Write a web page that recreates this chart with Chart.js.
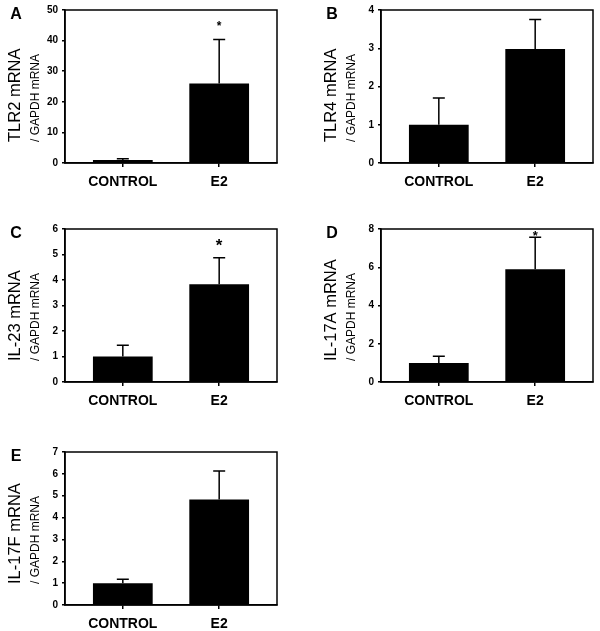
<!DOCTYPE html>
<html>
<head>
<meta charset="utf-8">
<script src="https://cdn.jsdelivr.net/npm/chart.js@4.4.1/dist/chart.umd.min.js"></script>
<style>
  html, body { margin: 0; padding: 0; background: #fff; overflow: hidden; }
  #wrap { position: relative; width: 600px; height: 631px; overflow: hidden; }
  .panel { position: absolute; width: 300px; height: 200px; }
</style>
</head>
<body>
<div id="wrap"></div>
<script>
// data
const categories = ['CONTROL', 'E2'];
const panelLetters = ['A', 'B', 'C', 'D', 'E'];
const yTitles = ['TLR2 mRNA', 'TLR4 mRNA', 'IL-23 mRNA', 'IL-17A mRNA', 'IL-17F mRNA'];
const ySubtitle = '/ GAPDH mRNA';
const yMaxima = [50, 4, 6, 8, 7];
const yStepSizes = [10, 1, 1, 2, 1];
const meanValues = [[1, 26.0], [1, 2.98], [1, 3.83], [1, 5.9], [1, 4.83]];
const errorValues = [[0.4, 14.4], [0.7, 0.77], [0.44, 1.04], [0.35, 1.67], [0.18, 1.3]];
const starMarks = ['*', '', '*', '*', ''];
const starLevels = [45.5, 0, 5.5, 7.8, 0];

// where each panel sits on the page
const panelPos = [
    { left: 0, top: 0 }, { left: 316, top: 0 },
    { left: 0, top: 219 }, { left: 316, top: 219 },
    { left: 0, top: 442 }
];
const starFontSizes = [12, 0, 17, 13, 0];

const FONT = 'Arial, "Liberation Sans", sans-serif';

// draws frame, error bars, stars, axis titles and panel letter
const decorPlugin = {
    id: 'decor',
    afterDatasetsDraw(chart, args, opts) {
        const ctx = chart.ctx;
        const area = chart.chartArea;
        const xs = chart.scales.x;
        const ys = chart.scales.y;
        const p = opts.panel;

        ctx.save();
        ctx.strokeStyle = '#000';
        ctx.lineWidth = 1.5;
        ctx.strokeRect(area.left, area.top, area.right - area.left, area.bottom - area.top);

        // error bars (upper half only)
        meanValues[p].forEach((m, i) => {
            const x = xs.getPixelForValue(i);
            const y0 = ys.getPixelForValue(m);
            const y1 = ys.getPixelForValue(m + errorValues[p][i]);
            ctx.beginPath();
            ctx.moveTo(x, y0);
            ctx.lineTo(x, y1);
            ctx.moveTo(x - 6, y1);
            ctx.lineTo(x + 6, y1);
            ctx.stroke();
        });

        // significance star above E2
        if (starMarks[p]) {
            ctx.fillStyle = '#000';
            ctx.font = 'bold ' + starFontSizes[p] + 'px ' + FONT;
            ctx.textAlign = 'center';
            ctx.textBaseline = 'middle';
            ctx.fillText(starMarks[p], xs.getPixelForValue(1), ys.getPixelForValue(starLevels[p]) + starFontSizes[p] * 0.25);
        }

        // rotated y titles
        ctx.fillStyle = '#000';
        ctx.textAlign = 'left';
        ctx.textBaseline = 'middle';
        ctx.save();
        ctx.translate(area.left - 50, area.top + 132);
        ctx.rotate(-Math.PI / 2);
        ctx.font = '16.5px ' + FONT;
        ctx.fillText(yTitles[p], 0, 0);
        ctx.restore();
        ctx.save();
        ctx.translate(area.left - 29, area.top + 132);
        ctx.rotate(-Math.PI / 2);
        ctx.font = '12px ' + FONT;
        ctx.fillText(ySubtitle, 0, 0);
        ctx.restore();

        // panel letter
        ctx.font = 'bold 16px ' + FONT;
        ctx.textAlign = 'center';
        ctx.fillText(panelLetters[p], 16, 15);
        ctx.restore();
    }
};

const wrap = document.getElementById('wrap');

panelLetters.forEach((letter, p) => {
    const canvas = document.createElement('canvas');
    canvas.className = 'panel';
    canvas.width = 300;
    canvas.height = 200;
    canvas.style.left = panelPos[p].left + 'px';
    canvas.style.top = panelPos[p].top + 'px';
    wrap.appendChild(canvas);

    new Chart(canvas.getContext('2d'), {
        type: 'bar',
        data: {
            datasets: [{
                data: meanValues[p].map((v, i) => ({ x: i, y: v })),
                backgroundColor: '#000',
                borderWidth: 0,
                categoryPercentage: 1,
                barPercentage: 0.62
            }]
        },
        options: {
            responsive: false,
            animation: false,
            layout: { padding: { top: 10, right: 23, bottom: 0, left: 0 } },
            plugins: {
                legend: { display: false },
                tooltip: { enabled: false },
                decor: { panel: p }
            },
            scales: {
                x: {
                    type: 'linear',
                    min: -0.6,
                    max: 1.6,
                    offset: false,
                    afterBuildTicks: scale => {
                        scale.ticks = categories.map((c, i) => ({ value: i }));
                    },
                    afterFit: scale => { scale.height = 37; },
                    grid: { offset: false, drawOnChartArea: false, drawTicks: true, tickLength: 4, color: '#000', lineWidth: 1.5 },
                    border: { display: true, color: '#000', width: 1.5 },
                    ticks: {
                        color: '#000',
                        padding: 7,
                        maxRotation: 0,
                        autoSkip: false,
                        font: { family: FONT, size: 14, weight: 'bold' },
                        callback: v => categories[v] !== undefined ? categories[v] : ''
                    }
                },
                y: {
                    min: 0,
                    max: yMaxima[p],
                    afterFit: scale => { scale.width = 65; },
                    grid: { drawOnChartArea: false, drawTicks: true, tickLength: 3, color: '#000', lineWidth: 1.5 },
                    border: { display: true, color: '#000', width: 1.5 },
                    ticks: {
                        stepSize: yStepSizes[p],
                        color: '#000',
                        padding: 4,
                        font: { family: FONT, size: 10, weight: 'bold' }
                    }
                }
            }
        },
        plugins: [decorPlugin]
    });
});
</script>
</body>
</html>
